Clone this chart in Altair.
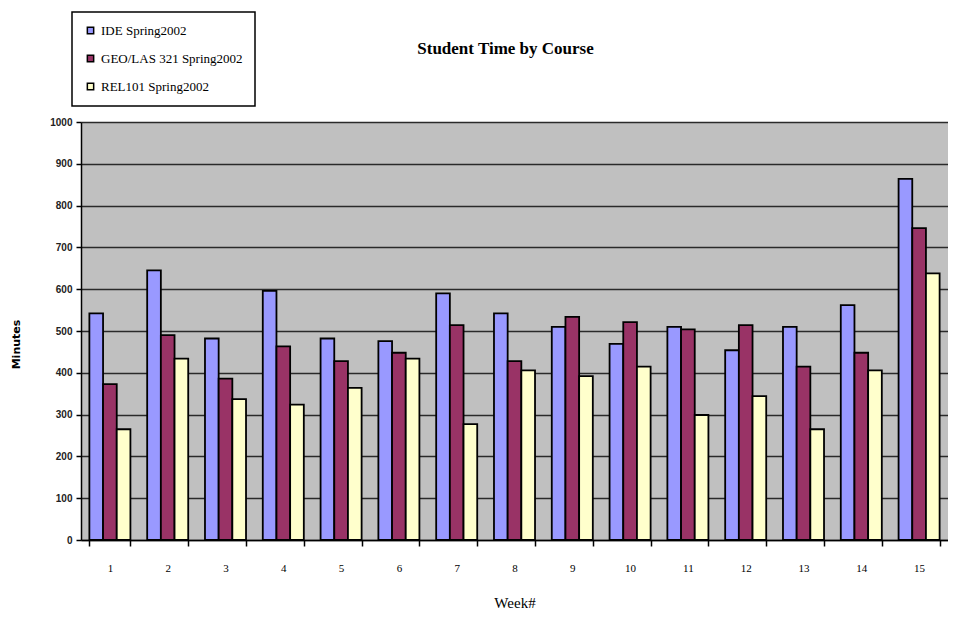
import altair as alt
import pandas as pd

weeks = [str(i) for i in range(1, 16)]
courses = ["IDE Spring2002", "GEO/LAS 321 Spring2002", "REL101 Spring2002"]
ide = [542, 645, 482, 596, 482, 476, 590, 542, 510, 469, 510, 454, 510, 562, 864]
geo = [373, 490, 386, 463, 428, 448, 514, 428, 534, 521, 504, 514, 415, 448, 746]
rel = [265, 434, 337, 324, 364, 434, 277, 406, 392, 415, 299, 344, 265, 406, 638]
colors = ["#9999FF", "#993366", "#FFFFCC"]
y_ticks = list(range(0, 1001, 100))

rows = []
for course, vals in zip(courses, [ide, geo, rel]):
    for w, v in zip(weeks, vals):
        rows.append({"Week": w, "Course": course, "Minutes": v})
df = pd.DataFrame(rows)

chart = alt.Chart(df).mark_bar(stroke="black", strokeWidth=1.8).encode(
    x=alt.X("Week:O", sort=weeks,
            scale=alt.Scale(paddingInner=0.29, paddingOuter=0.145),
            axis=alt.Axis(title="Week#", labelAngle=0, tickBand="extent",
                          labelFont="Liberation Serif", labelFontSize=11, labelColor="black",
                          labelPadding=16, tickSize=6, tickColor="black", tickWidth=1.5,
                          domainColor="black", domainWidth=1.5,
                          titleFont="Liberation Serif", titleFontSize=15, titleFontWeight="normal",
                          titleColor="black", titlePadding=22)),
    xOffset=alt.XOffset("Course:N", sort=courses, scale=alt.Scale(domain=courses, paddingInner=0, paddingOuter=0)),
    y=alt.Y("Minutes:Q", scale=alt.Scale(domain=[0, 1000], nice=False),
            axis=alt.Axis(title="Minutes", values=y_ticks, format="d", grid=True,
                          gridColor="#2a2a2a", gridWidth=1.3,
                          labelFont="Liberation Sans", labelFontSize=10, labelFontWeight="bold",
                          labelColor="#222222", labelPadding=4,
                          tickSize=5, tickColor="black", tickWidth=1.5,
                          domainColor="black", domainWidth=1.5,
                          titleFont="DejaVu Sans", titleFontSize=11, titleFontWeight="bold",
                          titleColor="black", titleX=-60, titleY=222)),
    color=alt.Color("Course:N", scale=alt.Scale(domain=courses, range=colors),
                    legend=alt.Legend(title=None, orient="none", legendX=-9, legendY=-110,
                                      direction="vertical", fillColor="white", strokeColor="black",
                                      padding=12, rowPadding=14, symbolType="square", symbolSize=40,
                                      symbolStrokeColor="black", symbolStrokeWidth=1.5, symbolOpacity=1,
                                      labelFont="Liberation Serif", labelFontSize=13, labelColor="black",
                                      labelLimit=300)),
).properties(
    width=867, height=418,
    title=alt.Title("Student Time by Course", font="Liberation Serif", fontSize=17,
                    fontWeight="bold", color="black", anchor="middle", offset=-47, dx=-9),
    autosize=alt.AutoSizeParams(type="none"),
    padding={"left": 73, "top": 114, "right": 0, "bottom": 69},
).configure_view(fill="#C0C0C0", strokeOpacity=0).configure_legend(strokeWidth=1.5)

chart.save("out.html", embed_options={"renderer": "svg", "actions": False})
